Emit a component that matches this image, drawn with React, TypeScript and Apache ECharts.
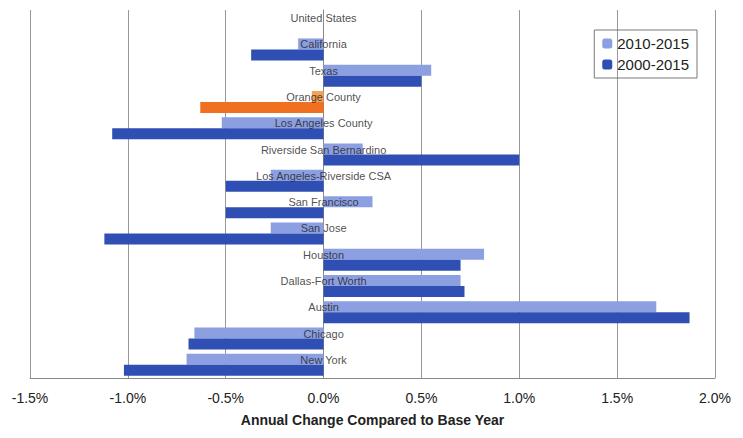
import React, { useEffect, useRef } from "react";
import * as echarts from "echarts";

const categories = [
  "United States", "California", "Texas", "Orange County", "Los Angeles County",
  "Riverside San Bernardino", "Los Angeles-Riverside CSA", "San Francisco", "San Jose",
  "Houston", "Dallas-Fort Worth", "Austin", "Chicago", "New York",
];
const recent = [0, -0.13, 0.55, -0.06, -0.52, 0.2, -0.27, 0.25, -0.27, 0.82, 0.7, 1.7, -0.66, -0.7];
const longRun = [0, -0.37, 0.5, -0.63, -1.08, 1.0, -0.5, -0.5, -1.12, 0.7, 0.72, 1.87, -0.69, -1.02];
const highlight = "Orange County";

const App: React.FC = () => {
  const ref = useRef<HTMLDivElement>(null);

  useEffect(() => {
    if (!ref.current) return;
    const chart = echarts.init(ref.current, null, { renderer: "svg" });
    const mk = (vals: number[], color: string, hl: string) =>
      vals.map((v, i) => ({ value: v, itemStyle: { color: categories[i] === highlight ? hl : color } }));
    chart.setOption({
      animation: false,
      textStyle: { fontFamily: "Liberation Sans, Arial, sans-serif" },
      grid: { left: 22, right: 20, top: 2, bottom: 52, containLabel: false, outerBoundsMode: "none" },
      legend: {
        data: ["2010-2015", "2000-2015"],
        orient: "vertical",
        right: 38,
        top: 22,
        borderColor: "#777",
        borderWidth: 1,
        padding: [6, 8],
        itemWidth: 10,
        itemHeight: 10,
        itemGap: 6,
        textStyle: { fontSize: 15, color: "#222" },
      },
      xAxis: {
        type: "value",
        min: -1.5,
        max: 2.0,
        interval: 0.5,
        name: "Annual Change Compared to Base Year",
        nameLocation: "middle",
        nameGap: 35,
        nameTextStyle: { fontSize: 14, fontWeight: "bold", color: "#222" },
        axisLine: { show: true, lineStyle: { color: "#888" } },
        axisTick: { show: false },
        axisLabel: { fontSize: 14, margin: 13, color: "#222", formatter: (v: number) => v.toFixed(1) + "%" },
        splitLine: { lineStyle: { color: "#999" } },
      },
      yAxis: {
        type: "category",
        data: categories,
        inverse: true,
        axisLine: { onZero: true, lineStyle: { color: "#888" } },
        axisTick: { show: false },
        axisLabel: { show: false },
      },
      series: [
        {
          name: "2010-2015", type: "bar", barWidth: 11, barGap: "0%",
          itemStyle: { color: "#8c9fe0" },
          data: mk(recent, "#8c9fe0", "#f5a25a"),
        },
        {
          name: "2000-2015", type: "bar", barWidth: 11, barGap: "0%",
          itemStyle: { color: "#2f4fb5" },
          data: mk(longRun, "#2f4fb5", "#f07020"),
        },
        {
          name: "labels", type: "scatter", symbolSize: 0, silent: true, z: 5,
          data: categories.map((c) => [0, c]),
          label: {
            show: true, position: "inside", offset: [0, -5],
            formatter: (p: any) => p.value[1],
            fontSize: 11, color: "#222",
          },
        },
      ],
    });
    return () => chart.dispose();
  }, []);

  return <div ref={ref} style={{ width: 727, height: 422 }} />;
};

export default App;
